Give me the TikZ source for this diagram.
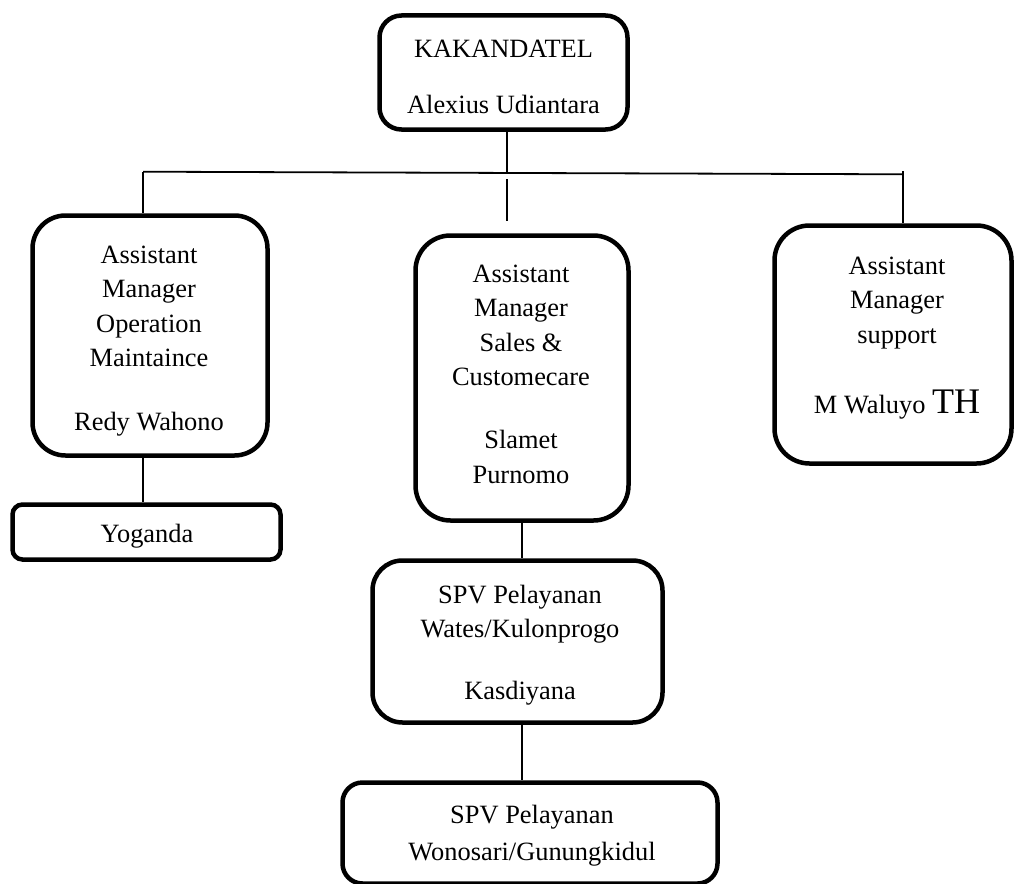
\documentclass[tikz,border=0pt]{standalone}
\usepackage{fontspec}
\setmainfont{Liberation Serif}
\begin{document}
\begin{tikzpicture}[x=1pt,y=-1pt,
  box/.style={draw, line width=4.5pt, rounded corners=#1, inner sep=0pt},
  box/.default=33pt,
  conn/.style={line width=1.8pt},
  txt/.style={font=\fontsize{26.4}{34.5}\selectfont, align=center, inner sep=0pt, anchor=north}]
\useasboundingbox (0,0) rectangle (1014,883);
% boxes
\node[box=22pt, minimum width=248pt, minimum height=114pt] (kak) at (503.5,72.5) {};
\node[box=33pt, minimum width=235pt, minimum height=240pt] (opm) at (150,335.5) {};
\node[box=35pt, minimum width=213pt, minimum height=285pt] (sales) at (522,378) {};
\node[box=35pt, minimum width=237pt, minimum height=238pt] (sup) at (893,344.5) {};
\node[box=10pt, minimum width=268pt, minimum height=55pt] (yog) at (146.5,532) {};
\node[box=30pt, minimum width=290pt, minimum height=162pt] (spv1) at (517.5,641.5) {};
\node[box=20pt, minimum width=375pt, minimum height=101pt] (spv2) at (530,833) {};
% texts
\node[txt] (kakT) at (503.5,32.85) {\strut KAKANDATEL\\[21.5pt]Alexius Udiantara};
\node[txt] (opmT) at (149,238.85) {\strut Assistant\\Manager\\Operation\\Maintaince\\[28.8pt]Redy Wahono};
\node[txt] (salesT) at (521,257.85) {\strut Assistant\\Manager\\Sales \&\\Customecare\\[28.5pt]Slamet\\Purnomo};
\node[txt] (supT) at (897,249.85) {\strut Assistant\\Manager\\support\\[35.5pt]M Waluyo {\fontsize{36}{34.5}\selectfont TH}};
\node[txt] (yogT) at (147,517.85) {\strut Yoganda};
\node[txt] (spv1T) at (520,578.85) {\strut SPV Pelayanan\\Wates/Kulonprogo\\[27.5pt]Kasdiyana};
\node[txt] (spv2T) at (532,798.85) {\strut SPV Pelayanan\\[2.5pt]Wonosari/Gunungkidul};
% connectors
\coordinate (hl) at (143,171.7);
\coordinate (hr) at (903,174.3);
\coordinate (jt) at (507,172.6);
\coordinate (rt) at (903,171);
\coordinate (s1) at (507,179);
\coordinate (s2) at (507,221);
\draw[conn] (hl) -- (hr);
\draw[conn] (kak.south -| jt) -- (jt);
\draw[conn] (hl) -- (opm.north -| hl);
\draw[conn] (rt) -- (sup.north -| rt);
\draw[conn] (s1) -- (s2);
\draw[conn] (opm.south -| hl) -- (yog.north -| hl);
\draw[conn] (sales.south) -- (sales.south |- spv1.north);
\draw[conn] (spv1.south -| sales.south) -- (spv2.north -| sales.south);
\end{tikzpicture}
\end{document}
